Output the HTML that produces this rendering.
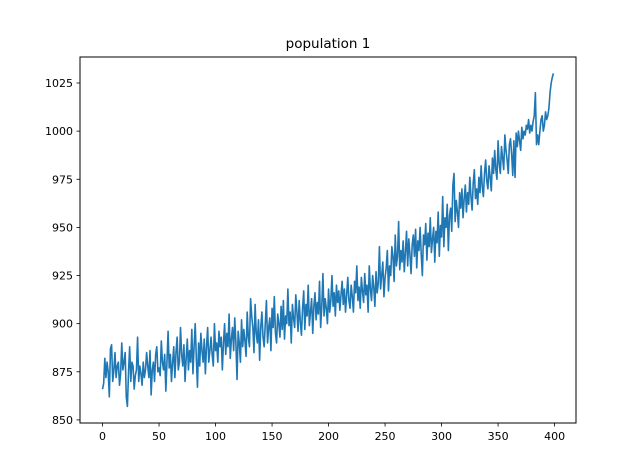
<!DOCTYPE html>
<html><head><meta charset="utf-8"><style>
body{margin:0;background:#fff;}
svg{display:block;font-family:"DejaVu Sans","Liberation Sans",sans-serif;}
</style></head><body>
<svg id="chart" width="640" height="476">
<rect width="640" height="476" fill="#fff"/>
<text x="328" y="48" font-size="13.5" text-anchor="middle">population 1</text>
<g id="plot"></g>
<rect x="80" y="57" width="496" height="366" fill="none" stroke="#000" stroke-width="1"/>
</svg>
<script>
const xTicks=[0,50,100,150,200,250,300,350,400];
const yTicks=[850,875,900,925,950,975,1000,1025];
const population=[
866,869,882,872,880,875,862,887,889,870,876,885,872,878,880,868,874,890,876,880,
885,862,857,875,888,870,880,878,866,873,876,893,870,878,874,868,880,872,876,885,
878,872,886,863,876,880,870,884,888,875,877,873,891,880,876,884,865,880,896,877,
884,870,880,888,872,885,893,876,880,898,884,878,889,870,882,892,876,886,880,897,
874,888,900,882,867,890,878,895,886,880,892,874,888,898,880,886,893,884,878,900,
886,890,880,896,888,893,876,890,900,884,895,888,905,882,892,898,886,903,890,871,
896,890,880,902,888,897,891,883,906,893,888,913,904,898,885,910,895,890,902,881,
898,906,893,888,900,912,890,898,903,886,908,898,914,895,890,905,900,893,909,897,
912,892,904,900,918,899,906,890,910,903,898,915,906,896,912,901,894,908,917,897,
910,904,920,899,906,913,895,909,916,902,911,905,922,898,909,926,904,913,908,900,
918,906,912,925,909,916,904,920,911,917,907,915,922,910,918,906,915,924,912,908,
920,914,906,922,916,930,912,919,908,924,917,911,926,915,920,906,930,918,912,925,
919,909,927,916,921,940,918,925,932,914,924,929,938,917,930,925,940,935,922,946,
930,935,953,928,938,932,943,927,937,948,930,944,936,926,941,946,935,949,929,943,
938,950,936,925,946,941,952,933,947,940,955,937,944,950,932,948,942,958,935,951,
945,966,940,955,950,962,938,956,960,948,972,978,953,964,958,950,968,960,970,955,
965,972,958,968,962,976,966,959,973,980,965,970,962,976,968,982,971,966,978,985,
974,970,982,976,969,986,978,990,980,975,995,983,978,992,986,980,998,990,985,978,
993,996,988,977,995,976,999,992,1000,995,990,1002,996,1000,998,1003,1001,1006,999,1003,
1000,1005,1008,1020,993,998,993,1000,1006,1008,1000,1003,1010,1006,1008,1012,1020,1025,1028,1030];
const L=80,R=576,T=57,B=423;
const xMin=-19.95,xMax=418.95,yMin=848.4,yMax=1038.5;
function sx(v){return L+(v-xMin)/(xMax-xMin)*(R-L);}
function sy(v){return B-(v-yMin)/(yMax-yMin)*(B-T);}
const NS='http://www.w3.org/2000/svg';
const g=document.getElementById('plot');
function mk(t,a){const e=document.createElementNS(NS,t);for(const k in a)e.setAttribute(k,a[k]);g.appendChild(e);return e;}
xTicks.forEach(v=>{
  const x=sx(v);
  const tk=mk('line',{x1:x,x2:x,y1:B,y2:B+3.5,stroke:'#000','stroke-width':0.8});
  
  
  const t=mk('text',{x:x,y:B+17,'font-size':11,'text-anchor':'middle'});
  t.textContent=v;
  
  
});
yTicks.forEach(v=>{
  const y=sy(v);
  const tk=mk('line',{x1:L-3.5,x2:L,y1:y,y2:y,stroke:'#000','stroke-width':0.8});
  
  
  const t=mk('text',{x:L-7,y:y+4,'font-size':11,'text-anchor':'end'});
  t.textContent=v;
  
  
});
const d=population.map((v,i)=>(i?'L':'M')+sx(i).toFixed(2)+','+sy(v).toFixed(2)).join('');
const p=mk('path',{d:d,fill:'none',stroke:'#1f77b4','stroke-width':1.6,'stroke-linejoin':'round'});


</script>
</body></html>
